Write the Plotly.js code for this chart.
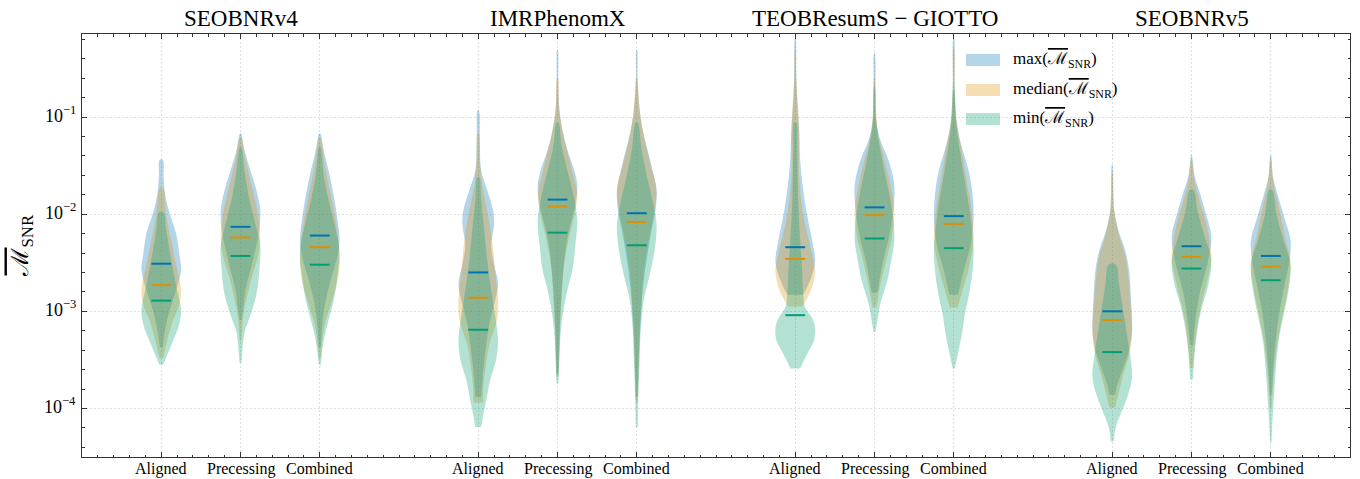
<!DOCTYPE html>
<html>
<head>
<meta charset="utf-8">
<script src="https://cdn.plot.ly/plotly-3.0.1.min.js"></script>
<style>html,body{margin:0;padding:0;background:#fff;}#chart{width:1360px;height:479px;}</style>
</head>
<body>
<div id="chart"></div>
<script>
// ---------------- data ----------------
const models = ['SEOBNRv4', 'IMRPhenomX', 'TEOBResumS − GIOTTO', 'SEOBNRv5'];
const configs = ['Aligned', 'Precessing', 'Combined'];
const statLabels = ['max', 'median', 'min'];
const yTickExponents = [-4, -3, -2, -1];

// Violin profiles: per configuration (Aligned, Precessing, Combined),
// list of [log10(M_SNR), relative density width] from bottom to top.
const seobnrv4_max = [
  [[-3.37,0.08],[-3.25,0.15],[-3.09,0.3],[-2.94,0.5],[-2.78,0.75],[-2.58,1],[-2.40,0.9],[-2.20,0.75],[-1.99,0.42],[-1.80,0.2],[-1.62,0.12],[-1.44,0.08]],
  [[-3.09,0.05],[-2.94,0.15],[-2.78,0.25],[-2.58,0.5],[-2.37,0.75],[-2.16,0.95],[-1.96,1],[-1.75,0.8],[-1.55,0.5],[-1.34,0.2],[-1.17,0.03]],
  [[-3.37,0.05],[-3.09,0.15],[-2.89,0.3],[-2.68,0.55],[-2.47,0.85],[-2.27,1],[-2.06,0.9],[-1.86,0.75],[-1.60,0.5],[-1.34,0.2],[-1.17,0.03]]
];
const seobnrv4_median = [
  [[-3.48,0.1],[-3.30,0.3],[-3.09,0.6],[-2.94,0.9],[-2.78,1],[-2.52,0.75],[-2.27,0.5],[-2.01,0.25],[-1.73,0.08]],
  [[-3.30,0.05],[-3.04,0.15],[-2.83,0.35],[-2.63,0.6],[-2.42,0.9],[-2.22,1],[-1.96,0.85],[-1.70,0.55],[-1.44,0.25],[-1.21,0.03]],
  [[-3.48,0.05],[-3.14,0.25],[-2.94,0.55],[-2.73,0.85],[-2.52,1],[-2.32,0.95],[-2.06,0.8],[-1.80,0.55],[-1.49,0.25],[-1.21,0.03]]
];
const seobnrv4_min = [
  [[-3.55,0.1],[-3.45,0.3],[-3.30,0.6],[-3.14,0.9],[-2.99,1],[-2.73,0.75],[-2.47,0.5],[-2.16,0.25],[-1.98,0.12]],
  [[-3.53,0.05],[-3.40,0.1],[-3.22,0.2],[-3.04,0.5],[-2.83,0.8],[-2.58,0.95],[-2.32,1],[-2.06,0.7],[-1.80,0.4],[-1.55,0.2],[-1.31,0.03]],
  [[-3.55,0.05],[-3.45,0.1],[-3.30,0.2],[-3.09,0.45],[-2.89,0.7],[-2.63,0.9],[-2.37,1],[-2.11,0.75],[-1.86,0.45],[-1.60,0.2],[-1.31,0.03]]
];
const imrphenomx_max = [
  [[-3.88,0.15],[-3.61,0.25],[-3.35,0.4],[-3.09,0.6],[-2.89,0.85],[-2.71,1],[-2.52,0.8],[-2.32,0.65],[-2.11,0.8],[-1.96,0.75],[-1.75,0.45],[-1.55,0.15],[-1.24,0.08],[-0.93,0.03]],
  [[-3.64,0.05],[-3.30,0.1],[-2.99,0.15],[-2.68,0.25],[-2.37,0.4],[-2.11,0.65],[-1.91,0.9],[-1.70,1],[-1.55,0.85],[-1.34,0.5],[-1.13,0.25],[-0.93,0.1],[-0.62,0.04],[-0.31,0.015]],
  [[-3.88,0.05],[-3.50,0.1],[-3.09,0.2],[-2.78,0.3],[-2.47,0.5],[-2.16,0.75],[-1.96,0.95],[-1.75,1],[-1.55,0.8],[-1.34,0.55],[-1.13,0.3],[-0.93,0.15],[-0.62,0.04],[-0.31,0.015]]
];
const imrphenomx_median = [
  [[-3.94,0.25],[-3.81,0.25],[-3.61,0.35],[-3.35,0.55],[-3.09,0.95],[-2.89,1],[-2.58,0.85],[-2.27,0.7],[-1.96,0.45],[-1.70,0.2],[-1.44,0.08],[-1.17,0.03]],
  [[-3.68,0.05],[-3.50,0.075],[-3.19,0.125],[-2.89,0.2],[-2.58,0.3],[-2.27,0.55],[-2.01,0.85],[-1.80,1],[-1.65,0.85],[-1.44,0.6],[-1.19,0.3],[-0.93,0.1],[-0.59,0.015]],
  [[-3.94,0.05],[-3.61,0.1],[-3.19,0.15],[-2.89,0.25],[-2.58,0.35],[-2.27,0.6],[-2.01,0.85],[-1.75,1],[-1.49,0.7],[-1.24,0.4],[-0.93,0.15],[-0.59,0.015]]
];
const imrphenomx_min = [
  [[-4.19,0.15],[-4.07,0.25],[-3.92,0.4],[-3.71,0.6],[-3.50,0.9],[-3.30,1],[-3.04,0.85],[-2.78,0.65],[-2.47,0.45],[-2.16,0.3],[-1.86,0.15],[-1.62,0.05]],
  [[-3.74,0.05],[-3.50,0.1],[-3.25,0.15],[-2.99,0.3],[-2.78,0.5],[-2.58,0.75],[-2.32,0.9],[-2.06,1],[-1.80,0.8],[-1.55,0.5],[-1.29,0.2],[-1.06,0.05]],
  [[-4.19,0.05],[-3.92,0.075],[-3.50,0.15],[-3.19,0.2],[-2.89,0.35],[-2.63,0.65],[-2.37,0.9],[-2.11,1],[-1.86,0.8],[-1.60,0.5],[-1.34,0.25],[-1.06,0.05]]
];
const teob_max = [
  [[-2.83,0.4],[-2.68,0.75],[-2.49,1],[-2.27,0.85],[-2.01,0.6],[-1.75,0.4],[-1.44,0.25],[-1.13,0.2],[-0.83,0.1],[-0.52,0.05],[-0.19,0.015]],
  [[-2.81,0.15],[-2.68,0.25],[-2.47,0.45],[-2.22,0.75],[-1.96,0.95],[-1.70,1],[-1.44,0.7],[-1.24,0.3],[-1.06,0.1],[-0.72,0.05],[-0.34,0.015]],
  [[-2.83,0.22],[-2.58,0.5],[-2.32,0.85],[-2.06,1],[-1.80,0.95],[-1.55,0.75],[-1.34,0.45],[-1.13,0.2],[-0.93,0.1],[-0.62,0.05],[-0.19,0.015]]
];
const teob_median = [
  [[-2.95,0.35],[-2.78,0.8],[-2.58,1],[-2.37,0.8],[-2.11,0.5],[-1.86,0.3],[-1.55,0.18],[-1.24,0.2],[-0.93,0.15],[-0.62,0.05],[-0.31,0.015]],
  [[-2.96,0.1],[-2.73,0.3],[-2.47,0.6],[-2.22,0.9],[-1.96,1],[-1.70,0.8],[-1.44,0.5],[-1.19,0.2],[-0.93,0.075],[-0.59,0.015]],
  [[-2.96,0.2],[-2.78,0.45],[-2.52,0.8],[-2.27,1],[-1.96,0.9],[-1.65,0.65],[-1.34,0.4],[-1.03,0.15],[-0.72,0.05],[-0.29,0.015]]
];
const teob_min = [
  [[-3.59,0.25],[-3.50,0.45],[-3.40,0.7],[-3.30,0.95],[-3.17,1],[-3.07,0.85],[-2.96,0.5],[-2.83,0.4],[-2.58,0.35],[-2.27,0.25],[-1.86,0.15],[-1.34,0.1],[-1.06,0.05]],
  [[-3.21,0.05],[-3.09,0.15],[-2.92,0.3],[-2.68,0.65],[-2.47,0.85],[-2.27,1],[-2.06,0.95],[-1.80,0.75],[-1.55,0.5],[-1.29,0.25],[-1.03,0.075],[-0.69,0.015]],
  [[-3.59,0.05],[-3.40,0.25],[-3.19,0.45],[-3.04,0.55],[-2.85,0.75],[-2.58,0.95],[-2.37,1],[-2.22,0.95],[-1.96,0.8],[-1.65,0.55],[-1.34,0.3],[-1.03,0.1],[-0.72,0.015]]
];
const seobnrv5_max = [
  [[-3.86,0.15],[-3.76,0.25],[-3.61,0.5],[-3.40,0.85],[-3.19,1],[-2.89,0.95],[-2.58,0.85],[-2.37,0.65],[-2.16,0.3],[-1.96,0.1],[-1.75,0.05],[-1.49,0.015]],
  [[-3.35,0.075],[-3.09,0.2],[-2.83,0.4],[-2.63,0.65],[-2.42,0.9],[-2.22,1],[-2.01,0.75],[-1.80,0.45],[-1.60,0.15],[-1.39,0.015]],
  [[-3.86,0.05],[-3.61,0.125],[-3.30,0.25],[-2.99,0.45],[-2.73,0.7],[-2.47,0.95],[-2.27,1],[-2.01,0.65],[-1.80,0.35],[-1.60,0.1],[-1.39,0.015]]
];
const seobnrv5_median = [
  [[-3.99,0.15],[-3.86,0.3],[-3.66,0.55],[-3.45,0.85],[-3.25,1],[-2.99,0.95],[-2.73,0.85],[-2.47,0.7],[-2.22,0.35],[-1.96,0.1],[-1.58,0.015]],
  [[-3.58,0.075],[-3.40,0.15],[-3.14,0.3],[-2.89,0.55],[-2.68,0.8],[-2.47,1],[-2.32,0.95],[-2.06,0.7],[-1.86,0.4],[-1.65,0.15],[-1.44,0.015]],
  [[-3.99,0.05],[-3.81,0.1],[-3.55,0.2],[-3.25,0.4],[-2.99,0.65],[-2.73,0.9],[-2.49,1],[-2.22,0.7],[-1.96,0.45],[-1.70,0.15],[-1.44,0.015]]
];
const seobnrv5_min = [
  [[-4.34,0.075],[-4.22,0.15],[-4.12,0.3],[-4.02,0.5],[-3.86,0.8],[-3.68,1],[-3.45,0.9],[-3.25,0.75],[-2.99,0.55],[-2.73,0.35],[-2.52,0.18]],
  [[-3.70,0.075],[-3.45,0.15],[-3.19,0.3],[-2.94,0.55],[-2.73,0.85],[-2.47,1],[-2.22,0.65],[-1.96,0.3],[-1.75,0.1]],
  [[-4.35,0.04],[-4.17,0.075],[-3.92,0.15],[-3.61,0.25],[-3.30,0.4],[-3.04,0.65],[-2.78,0.9],[-2.52,1],[-2.27,0.65],[-2.01,0.3],[-1.75,0.075]]
];

// Medians (log10 M_SNR) per model x configuration
const median_of_max    = [[-2.51,-2.13,-2.22],[-2.60,-1.85,-1.99],[-2.34,-1.93,-2.02],[-3.00,-2.33,-2.43]];
const median_of_median = [[-2.73,-2.24,-2.34],[-2.86,-1.92,-2.08],[-2.46,-2.01,-2.10],[-3.09,-2.44,-2.54]];
const median_of_min    = [[-2.89,-2.43,-2.52],[-3.19,-2.19,-2.32],[-3.04,-2.25,-2.35],[-3.42,-2.56,-2.68]];

// ---------------- drawing ----------------
const profilesByStat = [
  [seobnrv4_max, imrphenomx_max, teob_max, seobnrv5_max],
  [seobnrv4_median, imrphenomx_median, teob_median, seobnrv5_median],
  [seobnrv4_min, imrphenomx_min, teob_min, seobnrv5_min]
];
const mediansByStat = [median_of_max, median_of_median, median_of_min];
const lineColors = ['#0173b2', '#de8f05', '#029e73'];
const fillColors = ['rgba(1,115,178,0.3)', 'rgba(222,143,5,0.3)', 'rgba(2,158,115,0.3)'];
const HALF = 0.25;      // max half-width of a violin (x units)
const MED_HALF = 0.125; // half-length of median bars
const pos = (m, c) => m * 4 + c;
const FONT = 'Liberation Serif, Times New Roman, DejaVu Serif, serif';
const MBAR = '<span style="text-decoration:overline">ℳ</span><sub>SNR</sub>';

const traces = [];
profilesByStat.forEach((byModel, s) => {
  byModel.forEach((byConfig, m) => {
    byConfig.forEach((prof, c) => {
      const cx = pos(m, c);
      const xs = [], ys = [];
      prof.forEach(([ly, w]) => { xs.push(cx + w * HALF); ys.push(Math.pow(10, ly)); });
      for (let i = prof.length - 1; i >= 0; i--) {
        xs.push(cx - prof[i][1] * HALF); ys.push(Math.pow(10, prof[i][0]));
      }
      traces.push({
        type: 'scatter', mode: 'lines', x: xs, y: ys,
        fill: 'toself', fillcolor: fillColors[s],
        line: {width: 0, shape: 'spline', smoothing: 1, color: fillColors[s]},
        hoverinfo: 'skip', showlegend: false
      });
    });
  });
});
mediansByStat.forEach((meds, s) => {
  const xs = [], ys = [];
  meds.forEach((row, m) => row.forEach((ly, c) => {
    const cx = pos(m, c);
    xs.push(cx - MED_HALF, cx + MED_HALF, null);
    ys.push(Math.pow(10, ly), Math.pow(10, ly), null);
  }));
  traces.push({type: 'scatter', mode: 'lines', x: xs, y: ys,
    line: {color: lineColors[s], width: 2}, hoverinfo: 'skip', showlegend: false});
});

const tickvals = [], ticktext = [];
models.forEach((_, m) => configs.forEach((cfg, c) => { tickvals.push(pos(m, c)); ticktext.push(cfg); }));

const annotations = models.map((name, m) => ({
  x: pos(m, 1), xref: 'x', xanchor: 'center', y: 1, yref: 'paper', yanchor: 'bottom', yshift: 1,
  text: name, showarrow: false, font: {family: FONT, size: 23, color: '#000'}
}));
// x tick labels
tickvals.forEach((v, i) => annotations.push({
  x: v, xref: 'x', xanchor: 'center', y: 0, yref: 'paper', yanchor: 'top', yshift: -1,
  text: ticktext[i], showarrow: false, font: {family: FONT, size: 16, color: '#000'}
}));
// y tick labels (log axis: annotation y is the exponent)
yTickExponents.forEach(e => annotations.push({
  x: 0, xref: 'paper', xanchor: 'right', xshift: -4, y: e, yref: 'y', yanchor: 'middle', yshift: 3,
  text: '10<sup>−' + Math.abs(e) + '</sup>', showarrow: false, font: {family: FONT, size: 18, color: '#000'}
}));

// legend (drawn as swatches + text)
const shapes = [];
const legendRowsPx = [60, 90, 119];
const plotTop = 34, plotH = 423, plotL = 82, plotW = 1268;
statLabels.forEach((lab, s) => {
  const yc = 1 - (legendRowsPx[s] - plotTop) / plotH;
  shapes.push({type: 'rect', xref: 'paper', yref: 'paper',
    x0: (966 - plotL) / plotW, x1: (1000 - plotL) / plotW,
    y0: yc - 6 / plotH, y1: yc + 6 / plotH,
    fillcolor: fillColors[s], line: {width: 0}, layer: 'above'});
  annotations.push({x: (1011 - plotL) / plotW, xref: 'paper', y: yc, yref: 'paper',
    xanchor: 'left', yanchor: 'middle', showarrow: false,
    text: lab + '(' + MBAR + ')', font: {family: FONT, size: 17, color: '#000'}});
});
// y axis title
annotations.push({x: 0, xref: 'paper', xanchor: 'right', xshift: -44, y: 0.5, yref: 'paper',
  yanchor: 'middle', textangle: -90, showarrow: false,
  text: MBAR, font: {family: FONT, size: 24, color: '#000'}});

const axisCommon = {
  ticks: 'inside', ticklen: 5, tickwidth: 1, tickcolor: '#333',
  mirror: 'allticks', showline: true, linecolor: '#333', linewidth: 1.3,
  showgrid: true, gridcolor: '#d0d0d0', gridwidth: 0.7, griddash: '2px,2px',
  zeroline: false, showticklabels: false
};

const layout = {
  width: 1360, height: 479,
  margin: {l: 82, r: 10, t: 34, b: 22},
  paper_bgcolor: '#fff', plot_bgcolor: '#fff',
  font: {family: FONT, color: '#000'},
  showlegend: false,
  xaxis: Object.assign({}, axisCommon, {
    range: [-1, 15], tickmode: 'array', tickvals: tickvals,
    minor: {dtick: 0.2, tick0: 0, ticks: 'inside', ticklen: 2.5, tickcolor: '#333', showgrid: false}
  }),
  yaxis: Object.assign({}, axisCommon, {
    type: 'log', range: [-4.5, -0.145], tickmode: 'array',
    tickvals: yTickExponents.map(e => Math.pow(10, e)),
    minor: {dtick: 0.2, tick0: 0, ticks: 'inside', ticklen: 2.5, tickcolor: '#333', showgrid: false}
  }),
  annotations: annotations,
  shapes: shapes
};

Plotly.newPlot('chart', traces, layout, {staticPlot: true, displayModeBar: false});
</script>
</body>
</html>
